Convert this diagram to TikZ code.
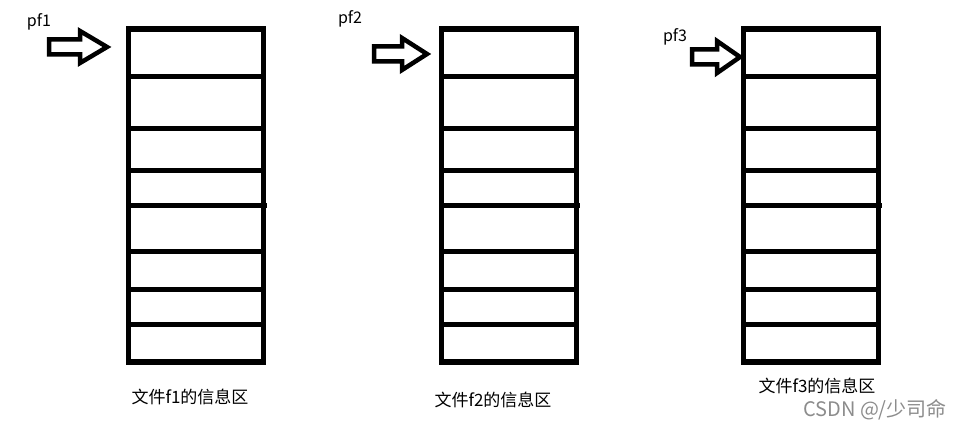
\documentclass[tikz,border=0pt]{standalone}
\usepackage{fontspec}
\setmainfont{Noto Sans CJK SC}
\newfontfamily\cjk{Noto Sans CJK SC}
\begin{document}
\begin{tikzpicture}[x=1pt, y=-1pt,
  col/.style={rectangle, draw, line width=5.5pt, minimum width=135pt, minimum height=333pt,
              inner sep=0pt, outer sep=0pt},
  row/.style={line width=5pt},
  ptr/.style={line width=4.5pt, line join=miter},
  ptrlbl/.style={font=\cjk\fontsize{16}{18}\selectfont, inner sep=0pt},
  lbl/.style={font=\cjk\fontsize{17}{20}\selectfont, inner sep=0pt},
  wmark/.style={font=\cjk\fontsize{20}{22}\selectfont, text=black!45, inner sep=0pt}
]
  \useasboundingbox (0,0) rectangle (963,427);

  % the three info areas
  \node[col] (f1) at (196,195.5) {};
  \node[col] (f2) at (509,195.5) {};
  \node[col] (f3) at (811,195.5) {};

  \foreach \f in {f1,f2,f3} {
    \foreach \y in {77,129,171,252,290,325}
      \draw[row] (\f.west |- 0,\y) -- (\f.east |- 0,\y);
    \draw[row] (\f.west |- 0,206) -- ([xshift=3pt]\f.east |- 0,206);
  }

  % pointers
  \coordinate (t1) at (107,47);
  \coordinate (t2) at (427,54);
  \coordinate (t3) at (740,57);
  \foreach \t/\s/\h in {t1/58/27, t2/53/25, t3/48/23}
    \draw[ptr] ([xshift=-\s pt, yshift=-7.5pt]\t) -- ([xshift=-\h pt, yshift=-7.5pt]\t)
      -- ([xshift=-\h pt, yshift=-16pt]\t) -- (\t) -- ([xshift=-\h pt, yshift=16pt]\t)
      -- ([xshift=-\h pt, yshift=7.5pt]\t) -- ([xshift=-\s pt, yshift=7.5pt]\t) -- cycle;

  \node[ptrlbl] (p1) at (39,22) {pf1};
  \node[ptrlbl] (p2) at (350,19) {pf2};
  \node[ptrlbl] (p3) at (675,37) {pf3};

  \node[lbl] (l1) at (190,397) {文件f1的信息区};
  \node[lbl] (l2) at (493,400) {文件f2的信息区};
  \node[lbl] (l3) at (817,386) {文件f3的信息区};

  \node[wmark] (wm) at (875,410) {CSDN @/少司命};
\end{tikzpicture}
\end{document}
